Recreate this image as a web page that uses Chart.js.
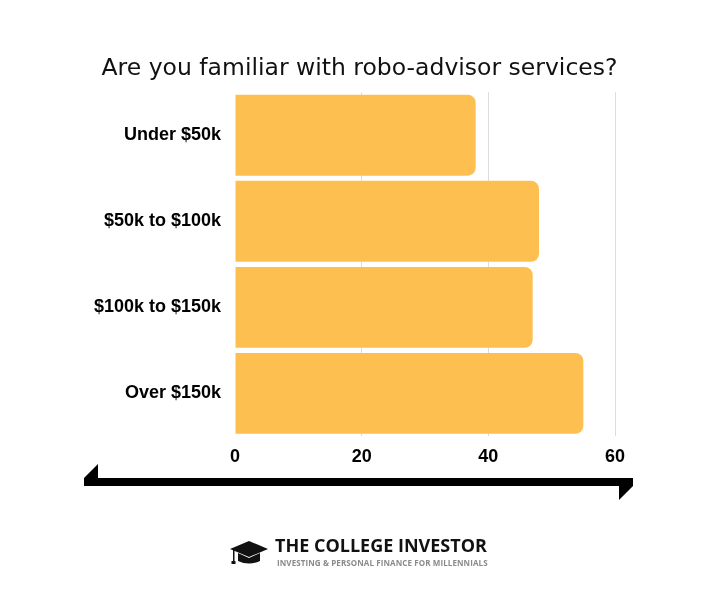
<!DOCTYPE html>
<html lang="en">

<head>
    <meta charset="UTF-8">
    <title>Robo-advisor</title>
    <script src="https://cdn.jsdelivr.net/npm/chart.js"></script>
    <style>
        body { margin: 0; background: #fff; }
        #wrap { position: relative; width: 719px; height: 608px; }
        #myChart { position: absolute; left: 0; top: 0; }
        #deco { position: absolute; left: 0; top: 0; }
        .logo__title { position: absolute; left: 275px; top: 533px; font-family: "Open Sans", sans-serif; font-weight: 700; font-size: 18px; color: #111; }
        .logo__sub { position: absolute; left: 277px; top: 557px; font-family: "Open Sans", sans-serif; font-weight: 700; font-size: 8px; color: #8a8a8a; letter-spacing: 0.1px; }
    </style>
</head>

<body>
    <div id="wrap">
        <canvas id="myChart" width="719" height="608"></canvas>
        <svg id="deco" width="719" height="608">
            <!-- seta dupla -->
            <rect x="84" y="478" width="549" height="8" fill="#000" />
            <polygon points="84,486 84,478 98,464 98,478" fill="#000" />
            <polygon points="633,478 633,486 619,500 619,486" fill="#000" />
            <!-- capelo -->
            <polygon points="230,549 249,541 268,549 249,557" fill="#111" />
            <path d="M238,553 L238,561 Q249,566 260,561 L260,553 L249,558 Z" fill="#111" />
            <rect x="233" y="550" width="1.5" height="12" fill="#111" />
            <rect x="231.5" y="561" width="4" height="3" fill="#111" />
        </svg>
        <div class="logo__title">THE COLLEGE INVESTOR</div>
        <div class="logo__sub">INVESTING &amp; PERSONAL FINANCE FOR MILLENNIALS</div>
    </div>

    <script>
        const categorias = ['Under $50k', '$50k to $100k', '$100k to $150k', 'Over $150k'];
        const valores = [38, 48, 47, 55];
        const eixoX = [0, 20, 40, 60];

        const config = {
            type: 'bar',
            data: {
                labels: categorias,
                datasets: [{
                    data: valores,
                    backgroundColor: '#FDBF50',
                    borderRadius: { topRight: 8, bottomRight: 8 },
                    borderSkipped: 'start',
                    barPercentage: 0.94,
                    categoryPercentage: 1
                }]
            },
            options: {
                indexAxis: 'y',
                responsive: false,
                animation: false,
                layout: { padding: { left: 0, right: 0, top: 0, bottom: 130 } },
                plugins: {
                    legend: { display: false },
                    tooltip: { enabled: false },
                    title: {
                        display: true,
                        text: 'Are you familiar with robo-advisor services?',
                        color: '#111',
                        font: { family: 'DejaVu Sans', size: 23.5, weight: 'normal' },
                        padding: { top: 55, bottom: 9 }
                    }
                },
                scales: {
                    x: {
                        min: 0,
                        max: 60,
                        afterBuildTicks: function (scale) {
                            scale.ticks = eixoX.map(v => ({ value: v }));
                        },
                        grid: {
                            color: function (ctx) { return ctx.tick && ctx.tick.value === 0 ? 'rgba(0,0,0,0)' : '#dcdcdc'; },
                            drawTicks: false
                        },
                        border: { display: false },
                        ticks: {
                            color: '#000',
                            padding: 10,
                            font: { family: 'Liberation Sans', size: 18, weight: 'bold' }
                        }
                    },
                    y: {
                        grid: { display: false, drawTicks: false },
                        border: { display: false },
                        afterFit: function (scale) { scale.width = 235; },
                        ticks: {
                            color: '#000',
                            padding: 14,
                            font: { family: 'Liberation Sans', size: 18, weight: 'bold' }
                        }
                    },
                    // eixo vazio só para reservar a margem da direita
                    yDireita: {
                        type: 'category',
                        position: 'right',
                        grid: { display: false, drawTicks: false },
                        border: { display: false },
                        ticks: { display: false },
                        afterFit: function (scale) { scale.width = 104; }
                    }
                }
            }
        };

        const myChart = new Chart(document.getElementById('myChart'), config);
    </script>
</body>

</html>
